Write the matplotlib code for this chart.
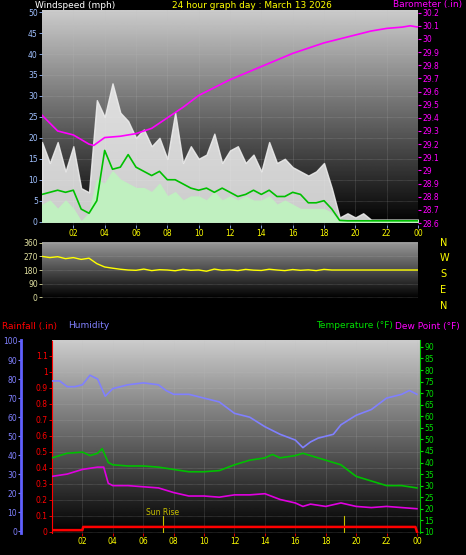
import numpy as np
import matplotlib
matplotlib.use("Agg")
import matplotlib.pyplot as plt

# ---------- data ----------
t30 = [i * 0.5 for i in range(49)]
gust = [19,14,19,12,18,8,7,29,25,33,26,24,20,22,18,20,15,26,14,18,15,16,21,14,17,18,14,16,12,19,14,15,13,12,11,12,14,8,1,2,1,2,0.5,0.5,0.5,0.5,0.5,0.5,0.5]
wspd = [4,5,3,5,3,0,2,10,9,12,10,9,8,8,7,9,6,7,5,6,6,5,7,5,6,5,6,5,5,6,4,5,4,3,3,3,3,2,0,0,0,0,0,0,0,0,0,0,0]
wavg = [6.5,7,7.5,7,7.5,3,2,5,17,12.5,13,16,13,12,11,12,10,10,9,8,7.5,8,7,8,7,6,6.5,7.5,6.5,7.5,6,6,7,6.5,4.5,4.5,5,3,0.3,0.2,0.2,0.2,0.2,0.2,0.2,0.2,0.2,0.2,0.2]
baro_t = [0,1,2,3,3.3,4,5,6,7,8,9,10,11,12,13,14,15,16,17,18,19,20,21,22,23,23.5,24]
baro = [29.42,29.3,29.27,29.2,29.19,29.25,29.26,29.28,29.32,29.4,29.48,29.57,29.63,29.69,29.74,29.79,29.84,29.89,29.93,29.97,30.0,30.03,30.06,30.08,30.09,30.1,30.09]
wdir = [270,262,268,255,262,250,258,222,200,192,185,180,178,186,176,182,180,175,184,178,180,172,186,178,181,176,184,179,177,185,180,176,183,178,181,176,184,180,180,180,180,180,180,180,180,180,180,180,180]
hum_t = [0,0.5,1,1.5,2,2.5,3,3.5,4,5,6,7,7.5,8,9,10,11,12,13,14,14.5,15,16,16.5,17,17.5,18,18.5,19,20,21,22,23,23.5,24]
hum = [79,79,76,76,77,82,80,71,75,77,78,77,74,72,72,70,68,62,60,55,53,51,48,44,47,49,50,51,56,61,64,70,72,74,72]
tmp_t = [0,1,2,2.5,3,3.3,3.7,4,5,6,7,8,9,10,11,12,13,14,14.5,15,16,16.5,17,18,19,20,21,22,23,24]
temp = [42,44,44.5,43,44,46,40,39,38.5,38.5,38,37,36,36,36.5,39,41,42,43.5,42,43,44,43,41,39,34,32,30,30,29]
dew_t = [0,1,2,3,3.4,3.7,4,5,6,7,8,9,10,11,12,13,14,15,16,16.5,17,18,19,20,21,22,23,24]
dew = [34,35,37,38,38,31,30,30,29.5,29,27,25.5,25.5,25,26,26,26.5,24,22.5,21,22,21,22.5,21,20.5,21,20.5,20]
rain_t = [0,2,2.05,23.9,24]
rain = [0.01,0.01,0.03,0.03,0.0]
hour_labels = ["02","04","06","08","10","12","14","16","18","20","22","00"]

W, H = 466, 555
fig = plt.figure(figsize=(W/100, H/100), dpi=100, facecolor="black")

def ax_at(x0, y0, x1, y1):
    return fig.add_axes([x0/W, 1-y1/H, (x1-x0)/W, (y1-y0)/H])

grad = np.linspace(0, 1, 256).reshape(-1, 1)
def bg(ax, top=0.8):
    ax.imshow(grad*top, cmap="gray", vmin=0, vmax=1, aspect="auto",
              extent=[0, 1, 0, 1], transform=ax.transAxes, zorder=0, origin="lower")

fs = 5.5
def style(ax, col):
    ax.set_facecolor("black")
    for s in ax.spines.values():
        s.set_visible(False)
    ax.tick_params(colors=col, labelsize=fs, length=2, width=0.6, pad=1)
    ax.grid(color="#c0c0c0", lw=0.4, alpha=0.5, ls=(0, (1, 1)), zorder=1)

# ---------- top panel ----------
ax1 = ax_at(42, 10, 418, 225)
bg(ax1)
style(ax1, "#a0c0ff")
ax1.set_xlim(0, 24)
ax1.set_ylim(-0.8, 50.5)
ax1.fill_between(t30, gust, color="#f0f0f0", zorder=2, alpha=0.85)
ax1.fill_between(t30, wspd, color="#c0f0c0", zorder=3)
ax1.plot(t30, wavg, color="#00c000", lw=1.2, zorder=4)
ax1.set_yticks(range(0, 51, 5))
ax1.set_xticks(range(2, 25, 2))
ax1.set_xticklabels(hour_labels, color="yellow")
ax1b = ax1.twinx()
for s in ax1b.spines.values():
    s.set_visible(False)
ax1b.set_ylim(28.585, 30.22)
ax1b.plot(baro_t, baro, color="#ff00ff", lw=1.2, zorder=5)
bt = np.round(np.arange(28.6, 30.21, 0.1), 1)
ax1b.set_yticks(bt)
ax1b.set_yticklabels([f"{v:g}" for v in bt])
ax1b.tick_params(colors="#ff00ff", labelsize=fs, length=2, pad=1)
fig.text(35/W, 1-5/H, "Windspeed (mph)", color="white", fontsize=6.5, va="center")
fig.text(172/W, 1-5/H, "24 hour graph day : March 13 2026", color="yellow", fontsize=6.5, va="center")
fig.text(462/W, 1-5/H, "Barometer (.in)", color="#ff00ff", fontsize=6.5, va="center", ha="right")

# ---------- middle panel ----------
ax2 = ax_at(42, 242, 418, 298)
bg(ax2, 0.6)
style(ax2, "#e0e0a0")
ax2.set_xlim(0, 24)
ax2.set_ylim(-5, 365)
ax2.plot(t30, wdir, color="yellow", lw=1.0, zorder=3)
ax2.set_yticks([0, 90, 180, 270, 360])
ax2.set_xticks([])
for lab, yy in zip("NWSEN", [243, 258, 274, 290, 306]):
    fig.text(440/W, 1-yy/H, lab, color="yellow", fontsize=7, va="center")

# ---------- bottom panel ----------
ax3 = ax_at(52, 340, 420, 533)
bg(ax3)
style(ax3, "red")
ax3.set_xlim(0, 24.2)
ax3.set_ylim(-0.008, 1.2)
ax3.plot(rain_t, rain, color="red", lw=1.8, zorder=5)
ax3.plot([7.3, 7.3], [0, 0.1], color="#c8c000", lw=0.8, zorder=4)
ax3.plot([19.2, 19.2], [0, 0.1], color="#c8c000", lw=0.8, zorder=4)
ax3.text(7.3, 0.105, "Sun Rise", color="#c8c000", fontsize=fs, ha="center", zorder=6)
rt = np.round(np.arange(0, 1.15, 0.1), 1)
ax3.set_yticks(rt)
ax3.set_yticklabels([f"{v:g}" for v in rt])
ax3.set_xticks(range(2, 25, 2))
ax3.set_xticklabels(hour_labels, color="yellow")
ax3.spines["left"].set_visible(True)
ax3.spines["left"].set_color("red")
ax3.spines["left"].set_linestyle((0, (1, 1)))

ax3h = ax3.twinx()
ax3h.set_ylim(-0.8, 100.5)
ax3h.plot(hum_t, hum, color="#8080ff", lw=1.2, zorder=5)
ax3h.yaxis.set_ticks_position("left")
ax3h.spines["left"].set_position(("outward", 22))
for s in ["top", "right", "bottom"]:
    ax3h.spines[s].set_visible(False)
ax3h.spines["left"].set_color("#6060ff")
ax3h.spines["left"].set_linewidth(2)
ax3h.set_yticks(range(0, 101, 10))
ax3h.tick_params(colors="#8080ff", labelsize=fs, length=2, pad=1)

ax3t = ax3.twinx()
for s in ["top", "left", "bottom"]:
    ax3t.spines[s].set_visible(False)
ax3t.spines["right"].set_color("#00c000")
ax3t.set_ylim(9.5, 93)
ax3t.plot(tmp_t, temp, color="#00c000", lw=1.2, zorder=5)
ax3t.plot(dew_t, dew, color="#e000e0", lw=1.2, zorder=5)
ax3t.set_yticks(range(10, 91, 5))
ax3t.tick_params(colors="#00e000", labelsize=fs, length=2, pad=1)

fig.text(2/W, 1-326/H, "Rainfall (.in)", color="red", fontsize=6.5, va="center")
fig.text(68/W, 1-326/H, "Humidity", color="#8080ff", fontsize=6.5, va="center")
fig.text(393/W, 1-326/H, "Temperature (°F)", color="#00e000", fontsize=6.5, va="center", ha="right")
fig.text(395/W, 1-326/H, "Dew Point (°F)", color="#ff00ff", fontsize=6.5, va="center")

fig.savefig("out.png", dpi=100, facecolor="black")
